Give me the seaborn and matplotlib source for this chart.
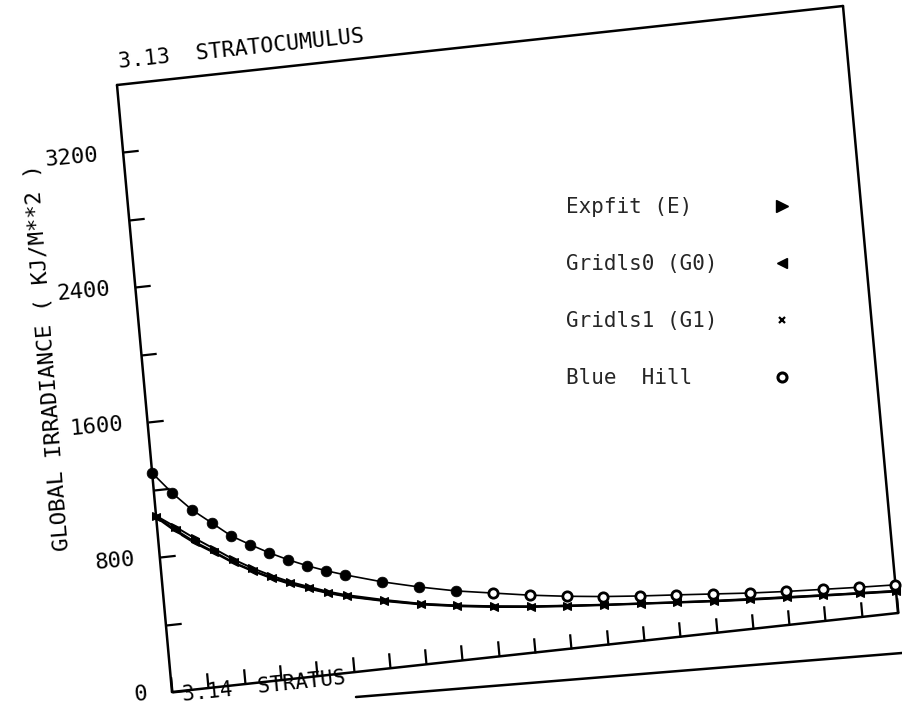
import numpy as np
import pandas as pd
import matplotlib
matplotlib.use("Agg")
import matplotlib.pyplot as plt
import seaborn as sns
from matplotlib.transforms import Affine2D
from matplotlib.lines import Line2D
import mpl_toolkits.axisartist.floating_axes as floating_axes
from mpl_toolkits.axisartist.grid_finder import FixedLocator, DictFormatter

# ---------------- data ----------------
x_vals = [0, 0.5, 1, 1.5, 2, 2.5, 3, 3.5, 4, 4.5, 5,
          6, 7, 8, 9, 10, 11, 12, 13, 14, 15, 16, 17, 18, 19, 20]
expfit = [1045, 968, 888, 815, 740, 676, 620, 570, 530, 490, 458,
          406, 360, 326, 298, 274, 255, 237, 221, 205, 190, 177, 165, 153, 142, 132]
gridls0 = [1040, 950, 866, 796, 722, 662, 608, 562, 522, 484, 452,
           402, 358, 324, 296, 272, 254, 236, 220, 204, 188, 175, 163, 152, 141, 130]
gridls1 = [1035, 940, 858, 790, 718, 658, 604, 558, 518, 481, 449,
           399, 355, 321, 293, 270, 251, 234, 218, 202, 186, 172, 160, 149, 138, 127]
blue_hill = [1299, 1168, 1056, 968, 879, 815, 755, 702, 655, 614, 578,
             513, 459, 412, 376, 340, 310, 285, 265, 248, 230, 212, 198, 187, 176, 167]
bh_filled_upto = 8

x_ticks = list(range(0, 21))
y_ticks = [0, 400, 800, 1200, 1600, 2000, 2400, 2800, 3200]
y_tick_labels = {0: "0", 800: "800", 1600: "1600", 2400: "2400", 3200: "3200"}
series_labels = ["Expfit (E)", "Gridls0 (G0)", "Gridls1 (G1)", "Blue  Hill"]
title = "3.13  STRATOCUMULUS"
next_title = "3.14  STRATUS"
y_label = "GLOBAL IRRADIANCE ( KJ/M**2 )"

# ---------------- styling ----------------
sns.set_theme(style="white")
plt.rcParams['font.family'] = ['DejaVu Sans Mono', 'DejaVu Sans']

W, H = 903, 708
fig = plt.figure(figsize=(W / 100, H / 100), dpi=100)
fig.patch.set_facecolor("white")

# skewed/rotated frame (scanned page): data -> pixel-like parent coords
tr = Affine2D.from_values(726 / 20, 79 / 20, -55 / 3600, 607 / 3600, 172, 16)
grid_helper = floating_axes.GridHelperCurveLinear(
    tr, extremes=(0, 20, 0, 3600),
    grid_locator1=FixedLocator(x_ticks),
    grid_locator2=FixedLocator(y_ticks),
    tick_formatter1=DictFormatter({}),
    tick_formatter2=DictFormatter(y_tick_labels))

# bbox of frame in pixels: x 117..898, y 16..702 ; floating axes expand by 2%
bx0, bx1, by0, by1 = 117, 898, 16, 702
cx, cy = (bx0 + bx1) / 2, (by0 + by1) / 2
w, h = (bx1 - bx0) * 1.02, (by1 - by0) * 1.02
ax = fig.add_axes([(cx - w / 2) / W, (cy - h / 2) / H, w / W, h / H],
                  axes_class=floating_axes.FloatingAxes, grid_helper=grid_helper)
ax.set_aspect("auto")
ax.grid(False)
ax.patch.set_facecolor("white")

for name in ["left", "right", "bottom", "top"]:
    ax.axis[name].line.set_linewidth(1.8)
    ax.axis[name].line.set_color("black")
ax.axis["right"].toggle(ticks=False, ticklabels=False, label=False)
ax.axis["top"].toggle(ticks=False, ticklabels=False, label=False)
ax.axis["bottom"].toggle(ticklabels=False, label=False)
ax.axis["left"].toggle(label=False)
for name in ["left", "bottom"]:
    ax.axis[name].major_ticks.set_ticksize(11)
    ax.axis[name].major_ticks.set_color("black")
    ax.axis[name].major_ticks.set_markeredgewidth(1.6)
ax.axis["left"].major_ticklabels.set_fontsize(16)
ax.axis["left"].major_ticklabels.set_color("black")
ax.axis["left"].major_ticklabels.set_pad(18)

aux = ax.get_aux_axes(tr)

lw = 1.4
sns.lineplot(x=x_vals, y=gridls1, ax=aux, color="black", lw=lw, marker="x",
             markersize=6, markeredgewidth=1.6, legend=False)
sns.lineplot(x=x_vals, y=gridls0, ax=aux, color="black", lw=lw, marker="<",
             markersize=6, markeredgecolor="black", legend=False)
sns.lineplot(x=x_vals, y=expfit, ax=aux, color="black", lw=lw, marker=">",
             markersize=6, markeredgecolor="black", legend=False)
sns.lineplot(x=x_vals, y=blue_hill, ax=aux, color="black", lw=1.2, legend=False)

bh = pd.DataFrame({"x": x_vals, "y": blue_hill})
filled = bh[bh["x"] <= bh_filled_upto]
openm = bh[bh["x"] > bh_filled_upto]
sns.scatterplot(data=filled, x="x", y="y", ax=aux, color="black", s=60,
                edgecolor="black", linewidth=0.5, marker="o", legend=False, zorder=5)
sns.scatterplot(data=openm, x="x", y="y", ax=aux, facecolor="white", s=45,
                edgecolor="black", linewidth=2.0, marker="o", legend=False, zorder=5)
aux.set_xlabel("")
aux.set_ylabel("")

# legend (text first, marker after); labels padded to equal width (monospace)
nbsp = "\u00a0"
maxlen = max(len(s) for s in series_labels)
padded = [s.replace(" ", nbsp) + nbsp * (maxlen - len(s)) for s in series_labels]
handles = [
    Line2D([], [], ls="none", marker=">", color="black", markersize=8),
    Line2D([], [], ls="none", marker="<", color="black", markersize=7),
    Line2D([], [], ls="none", marker="x", color="black", markersize=5, markeredgewidth=1.6),
    Line2D([], [], ls="none", marker="o", markerfacecolor="white",
           markeredgecolor="black", markersize=6.5, markeredgewidth=2.2),
]
fig.legend(handles, padded, loc="upper left",
           bbox_to_anchor=(566 / W, 1 - 197 / H), frameon=False,
           markerfirst=False, fontsize=15, handlelength=1.0,
           handletextpad=2.6, labelspacing=1.78, borderpad=0, borderaxespad=0)

# texts
fig.text(119 / W, 1 - 68 / H, title, rotation=6, rotation_mode="anchor",
         ha="left", va="baseline", fontsize=15.5, color="black")
fig.text(48 / W, 1 - 357 / H, y_label, rotation=94.5, rotation_mode="anchor",
         ha="center", va="center", fontsize=16, color="black")
fig.text(183 / W, 1 - 701 / H, next_title, rotation=6, rotation_mode="anchor",
         ha="left", va="baseline", fontsize=15, color="black")
# top edge of the next panel on the scanned page
fig.add_artist(Line2D([356 / W, 902 / W], [1 - 697 / H, 1 - 653 / H],
                      transform=fig.transFigure, color="black", lw=1.8))

fig.savefig("out.png", dpi=100, facecolor="white")
